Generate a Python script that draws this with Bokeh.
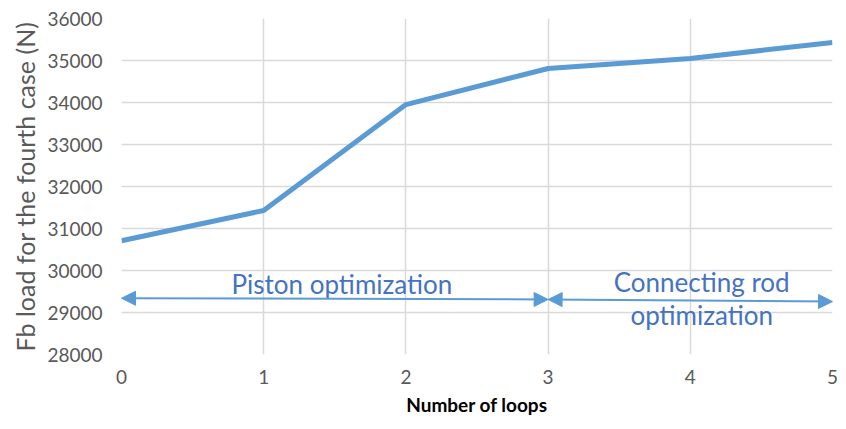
from bokeh.plotting import figure
from bokeh.models import Range1d, FixedTicker, Arrow, NormalHead, ColumnDataSource
from bokeh.core.properties import value
from bokeh.embed import file_html
from bokeh.resources import INLINE

loops = [0, 1, 2, 3, 4, 5]
fb_load = [30710, 31430, 33950, 34810, 35050, 35430]
y_ticks = [28000, 29000, 30000, 31000, 32000, 33000, 34000, 35000, 36000]

arrow_x0 = [0, 3]
arrow_x1 = [3, 5]
arrow_y0 = [29340, 29310]
arrow_y1 = [29310, 29260]

label_x = [1.55, 4.08, 4.08]
label_y = [29670, 29730, 28930]
label_text = ["Piston optimization", "Connecting rod", "optimization"]

BLUE = "#5B9BD5"
TXT_BLUE = "#4472C4"
GRID = "#D9D9D9"
TICK = "#595959"
FONT = "Lato"

p = figure(width=838, height=421, output_backend="svg", toolbar_location=None,
           x_range=Range1d(0, 5), y_range=Range1d(28000, 36000),
           min_border_left=121, min_border_right=6, min_border_top=18, min_border_bottom=67)
p.outline_line_color = None

p.line(loops, fb_load, line_color=BLUE, line_width=5, line_join="round")

head_kw = dict(size=14, fill_color=BLUE, line_color=BLUE)
for xs, xe, ys, ye in zip(arrow_x0, arrow_x1, arrow_y0, arrow_y1):
    p.add_layout(Arrow(x_start=xs, y_start=ys, x_end=xe, y_end=ye,
                       start=NormalHead(**head_kw), end=NormalHead(**head_kw),
                       line_color=BLUE, line_width=2))

src = ColumnDataSource(dict(x=label_x, y=label_y, t=label_text))
p.text(x="x", y="y", text="t", source=src, text_align="center", text_baseline="middle",
       text_color=TXT_BLUE, text_font=value(FONT), text_font_size="26px")

p.xaxis.ticker = FixedTicker(ticks=loops)
p.yaxis.ticker = FixedTicker(ticks=y_ticks)
for ax in (p.xaxis[0], p.yaxis[0]):
    ax.axis_line_color = None
    ax.major_tick_line_color = None
    ax.minor_tick_line_color = None
    ax.major_tick_out = 0
    ax.major_tick_in = 0
    ax.minor_tick_out = 0
    ax.minor_tick_in = 0
    ax.major_label_text_font = FONT
    ax.major_label_text_font_size = "19px"
    ax.major_label_text_color = TICK
p.xaxis.major_label_standoff = 15
p.yaxis.major_label_standoff = 19

p.xaxis.axis_label = "Number of loops"
p.xaxis.axis_label_text_font = FONT
p.xaxis.axis_label_text_font_size = "19px"
p.xaxis.axis_label_text_font_style = "bold"
p.xaxis.axis_label_text_color = "#000000"
p.xaxis.axis_label_standoff = 6

p.yaxis.axis_label = "Fb load for the fourth case (N)"
p.yaxis.axis_label_text_font = FONT
p.yaxis.axis_label_text_font_size = "25px"
p.yaxis.axis_label_text_font_style = "normal"
p.yaxis.axis_label_text_color = TICK
p.yaxis.axis_label_standoff = 4

p.xgrid.grid_line_color = GRID
p.ygrid.grid_line_color = GRID
p.xgrid.grid_line_width = 1.5
p.ygrid.grid_line_width = 1.5

open("out.html", "w").write(file_html(p, INLINE))
